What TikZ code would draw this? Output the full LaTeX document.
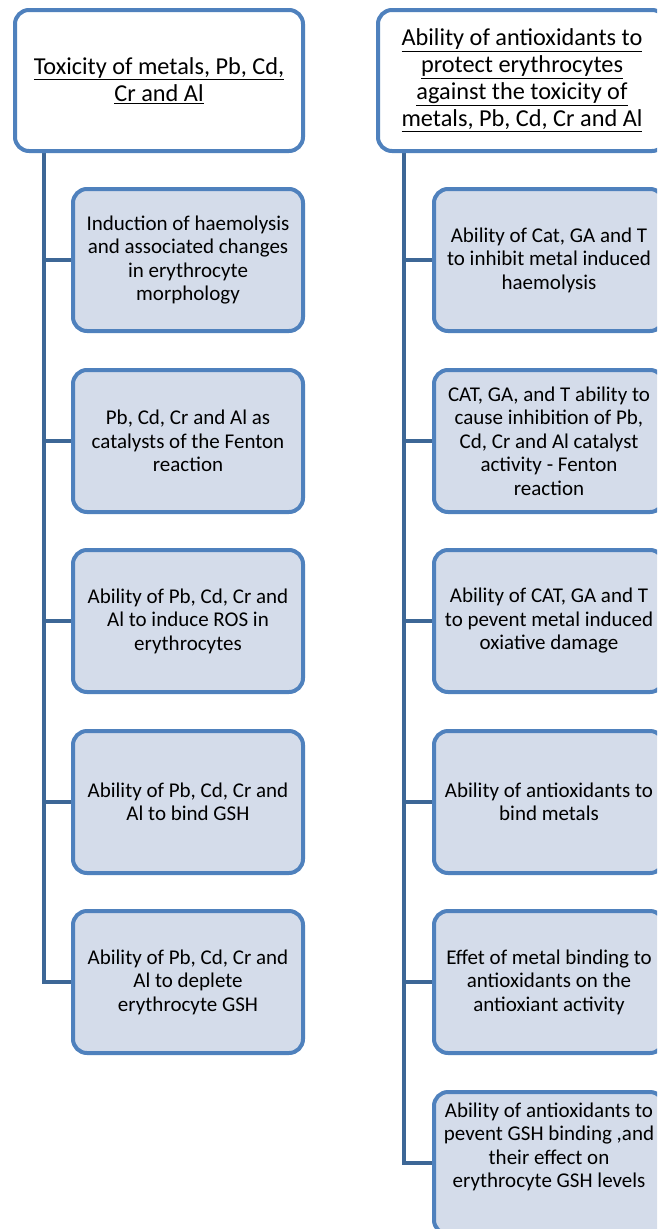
\documentclass[tikz,border=0pt]{standalone}
\usepackage{fontspec}
\setmainfont{Carlito}
\usetikzlibrary{backgrounds}
\definecolor{bord}{HTML}{4F81BD}
\definecolor{fillc}{HTML}{D4DCEA}
\definecolor{trunkc}{HTML}{3D6796}
\begin{document}
\begin{tikzpicture}[x=1pt,y=-1pt,
 hdr/.style={draw=bord, line width=4pt, rounded corners=14pt, fill=white, minimum width=288pt, minimum height=141pt, align=center, font=\fontsize{24.3}{27}\selectfont, inner sep=0pt},
 kid/.style={draw=bord, line width=4pt, rounded corners=14pt, fill=fillc, minimum width=230pt, minimum height=142pt, align=center, font=\fontsize{21}{23.5}\selectfont, inner sep=0pt},
 txt/.style={align=center, font=\fontsize{21}{23.5}\selectfont, inner sep=0pt},
 link/.style={draw=trunkc, line width=4pt}]
\useasboundingbox (0,0) rectangle (657,1229);
\clip (0,0) rectangle (657,1229);
% left column
\node[hdr] (h1) at (159,80.5) {\underline{Toxicity of metals, Pb, Cd,}\\\underline{Cr and Al}};
\node[kid] (a1) at (188,260) {Induction of haemolysis\\and associated changes\\in erythrocyte\\morphology};
\node[kid] (a2) at (188,441) {Pb, Cd, Cr and Al as\\catalysts of the Fenton\\reaction};
\node[kid] (a3) at (188,621) {Ability of Pb, Cd, Cr and\\Al to induce ROS in\\erythrocytes};
\node[kid] (a4) at (188,802) {Ability of Pb, Cd, Cr and\\Al to bind GSH};
\node[kid] (a5) at (188,982) {Ability of Pb, Cd, Cr and\\Al to deplete\\erythrocyte GSH};
% right column
\node[hdr] (h2) at (522,80.5) {\underline{Ability of antioxidants to}\\\underline{protect erythrocytes}\\\underline{against the toxicity of}\\\underline{metals, Pb, Cd, Cr and Al}};
\node[kid] (b1) at (549,260) {Ability of Cat, GA and T\\to inhibit metal induced\\haemolysis};
\node[kid] (b2) at (549,441) {CAT, GA, and T ability to\\cause inhibition of Pb,\\Cd, Cr and Al catalyst\\activity - Fenton\\reaction};
\node[kid] (b3) at (549,621) {Ability of CAT, GA and T\\to pevent metal induced\\oxiative damage};
\node[kid] (b4) at (549,802) {Ability of antioxidants to\\bind metals};
\node[kid] (b5) at (549,982) {Effet of metal binding to\\antioxidants on the\\antioxiant activity};
\node[kid] (b6) at (549,1163) {};
\node[txt] (b6t) at (549,1147) {Ability of antioxidants to\\pevent GSH binding ,and\\their effect on\\erythrocyte GSH levels};
% connectors
\coordinate (ta) at (44,151);
\coordinate (tb) at (404,151);
\begin{scope}[on background layer]
\fill[white] (0,0) rectangle (657,1229);
\draw[link] (ta) |- (a5.west);
\foreach \n in {a1,a2,a3,a4} \draw[link] (ta |- \n.west) -- (\n.west);
\draw[link] (tb) |- (b6.west);
\foreach \n in {b1,b2,b3,b4,b5} \draw[link] (tb |- \n.west) -- (\n.west);
\end{scope}
\end{tikzpicture}
\end{document}
